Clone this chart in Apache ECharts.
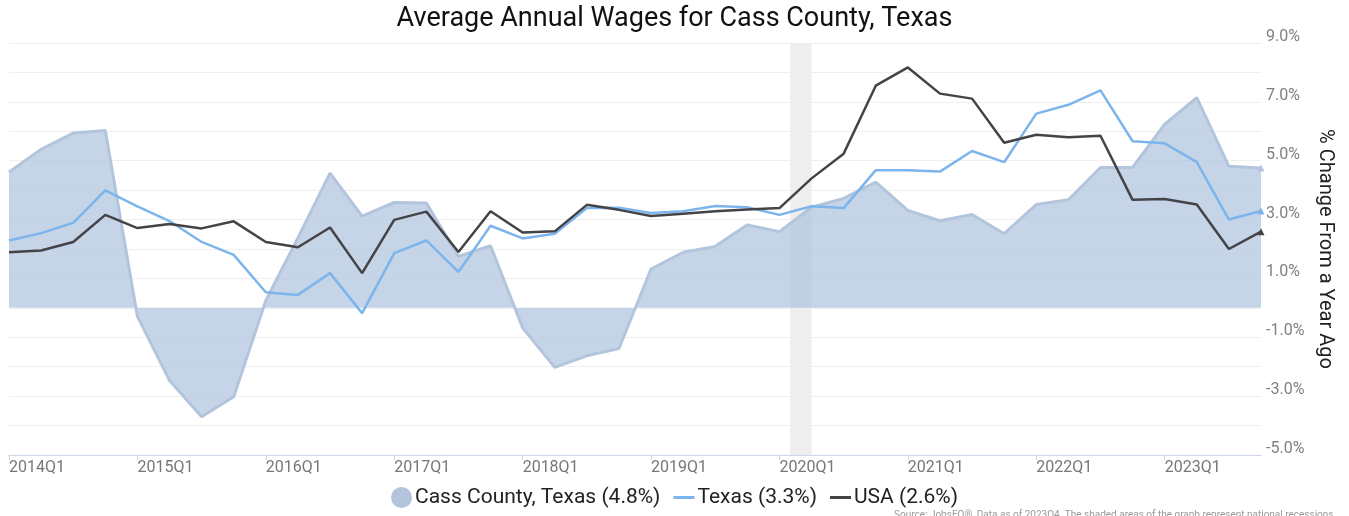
<!DOCTYPE html>
<html>
<head>
<meta charset="utf-8">
<script src="https://cdn.jsdelivr.net/npm/echarts@6/dist/echarts.min.js"></script>
<style>
  html, body { margin: 0; padding: 0; background: #fff; }
  #chart { width: 1349px; height: 516px; }
</style>
</head>
<body>
<div id="chart"></div>
<script>
// quarters 2014Q1 .. 2023Q4
var quarters = [];
for (var y = 2014; y <= 2023; y++) {
  for (var q = 1; q <= 4; q++) quarters.push(y + 'Q' + q);
}

// % change from a year ago
var cassCounty = [4.61, 5.39, 5.94, 6.03, -0.29, -2.47, -3.70, -3.02, 0.25, 2.38,
  4.58, 3.12, 3.58, 3.56, 1.75, 2.11, -0.68, -2.02, -1.63, -1.38,
  1.32, 1.89, 2.09, 2.82, 2.59, 3.42, 3.72, 4.27, 3.31, 2.96,
  3.17, 2.52, 3.51, 3.67, 4.77, 4.77, 6.24, 7.14, 4.81, 4.75];
var texas = [2.29, 2.54, 2.89, 3.99, 3.45, 2.95, 2.24, 1.80, 0.53, 0.44,
  1.18, -0.18, 1.86, 2.29, 1.22, 2.79, 2.36, 2.52, 3.39, 3.40,
  3.22, 3.28, 3.46, 3.42, 3.16, 3.45, 3.39, 4.68, 4.68, 4.63,
  5.33, 4.95, 6.60, 6.90, 7.39, 5.66, 5.59, 4.95, 3.00, 3.29];
var usa = [1.89, 1.95, 2.24, 3.16, 2.71, 2.85, 2.70, 2.94, 2.24, 2.06,
  2.73, 1.18, 2.99, 3.27, 1.90, 3.28, 2.56, 2.60, 3.50, 3.33,
  3.12, 3.20, 3.28, 3.34, 3.39, 4.40, 5.24, 7.55, 8.17, 7.28,
  7.11, 5.61, 5.88, 5.80, 5.85, 3.67, 3.70, 3.51, 2.00, 2.59];

var seriesNames = ['Cass County, Texas (4.8%)', 'Texas (3.3%)', 'USA (2.6%)'];
var recession = ['2020-02', '2020-04'];

// month -> position on the quarter scale
function quarterPos(ym) {
  var p = ym.split('-');
  return (parseInt(p[0]) - 2014) * 4 + (parseInt(p[1]) - 1) / 3;
}
// triangle on the last point only
function withEndMark(arr) {
  return arr.map(function (v, i) {
    if (i === arr.length - 1) return { value: v, symbol: 'triangle', symbolSize: 7 };
    return v;
  });
}

var lineIcon = 'path://M0,0H21V3H0Z';

var chart = echarts.init(document.getElementById('chart'));
chart.setOption({
  animation: false,
  title: {
    text: 'Average Annual Wages for Cass County, Texas',
    left: 'center',
    top: 1,
    textStyle: { fontFamily: 'Roboto', fontSize: 27, fontWeight: 'normal', color: '#111' }
  },
  legend: {
    bottom: 3,
    left: 'center',
    itemWidth: 21,
    itemHeight: 21,
    itemGap: 13,
    textStyle: { fontFamily: 'Roboto', fontSize: 21, color: '#222', padding: [0, 0, 0, -2] },
    data: [
      { name: seriesNames[0], icon: 'circle' },
      { name: seriesNames[1], icon: lineIcon },
      { name: seriesNames[2], icon: lineIcon }
    ]
  },
  grid: { left: 9, right: 88, top: 43, bottom: 61 },
  xAxis: [
    {
      type: 'category',
      data: quarters,
      boundaryGap: false,
      axisLine: { onZero: false, lineStyle: { color: '#ccd6eb' } },
      axisTick: { interval: 3, length: 5, lineStyle: { color: '#ccd6eb' } },
      axisLabel: {
        interval: 3,
        align: 'left',
        margin: 5,
        fontFamily: 'Roboto',
        fontSize: 16,
        color: '#777'
      },
      splitLine: { show: false }
    },
    {
      type: 'value',
      min: 0,
      max: quarters.length - 1,
      show: false
    }
  ],
  yAxis: {
    type: 'value',
    position: 'right',
    min: -5,
    max: 9,
    interval: 1,
    name: '% Change From a Year Ago',
    nameLocation: 'middle',
    nameRotate: -90,
    nameGap: 46,
    nameTextStyle: { fontFamily: 'Roboto', fontSize: 20, color: '#222' },
    axisLine: { show: false },
    axisTick: { show: false },
    axisLabel: {
      margin: 5,
      fontFamily: 'Roboto',
      fontSize: 16,
      color: '#808080',
      verticalAlign: 'bottom',
      lineHeight: 12,
      formatter: function (v) {
        return (v + 5) % 2 === 0 ? v.toFixed(1) + '%' : '';
      }
    },
    splitLine: { lineStyle: { color: '#efefef', width: 1 } }
  },
  graphic: [{
    type: 'text',
    left: 894,
    top: 510,
    style: {
      text: 'Source: JobsEQ®, Data as of 2023Q4. The shaded areas of the graph represent national recessions',
      fontFamily: 'Roboto',
      fontSize: 10,
      fill: '#999'
    }
  }],
  series: [
    {
      name: 'recession',
      type: 'line',
      xAxisIndex: 1,
      data: [],
      silent: true,
      z: 0,
      markArea: {
        silent: true,
        itemStyle: { color: '#eeeeee' },
        data: [[{ xAxis: quarterPos(recession[0]) }, { xAxis: quarterPos(recession[1]) }]]
      }
    },
    {
      name: seriesNames[0],
      type: 'line',
      data: withEndMark(cassCounty),
      symbol: 'none',
      z: 1,
      lineStyle: { color: '#b3c5dc', width: 3 },
      itemStyle: { color: '#b3c5dc' },
      areaStyle: { color: '#b0c4de', opacity: 0.72, origin: 0 }
    },
    {
      name: seriesNames[1],
      type: 'line',
      data: withEndMark(texas),
      symbol: 'none',
      z: 2,
      lineStyle: { color: '#7cb5ec', width: 2.5 },
      itemStyle: { color: '#7cb5ec' }
    },
    {
      name: seriesNames[2],
      type: 'line',
      data: withEndMark(usa),
      symbol: 'none',
      z: 3,
      lineStyle: { color: '#434348', width: 2.5 },
      itemStyle: { color: '#434348' }
    }
  ]
});
</script>
</body>
</html>
